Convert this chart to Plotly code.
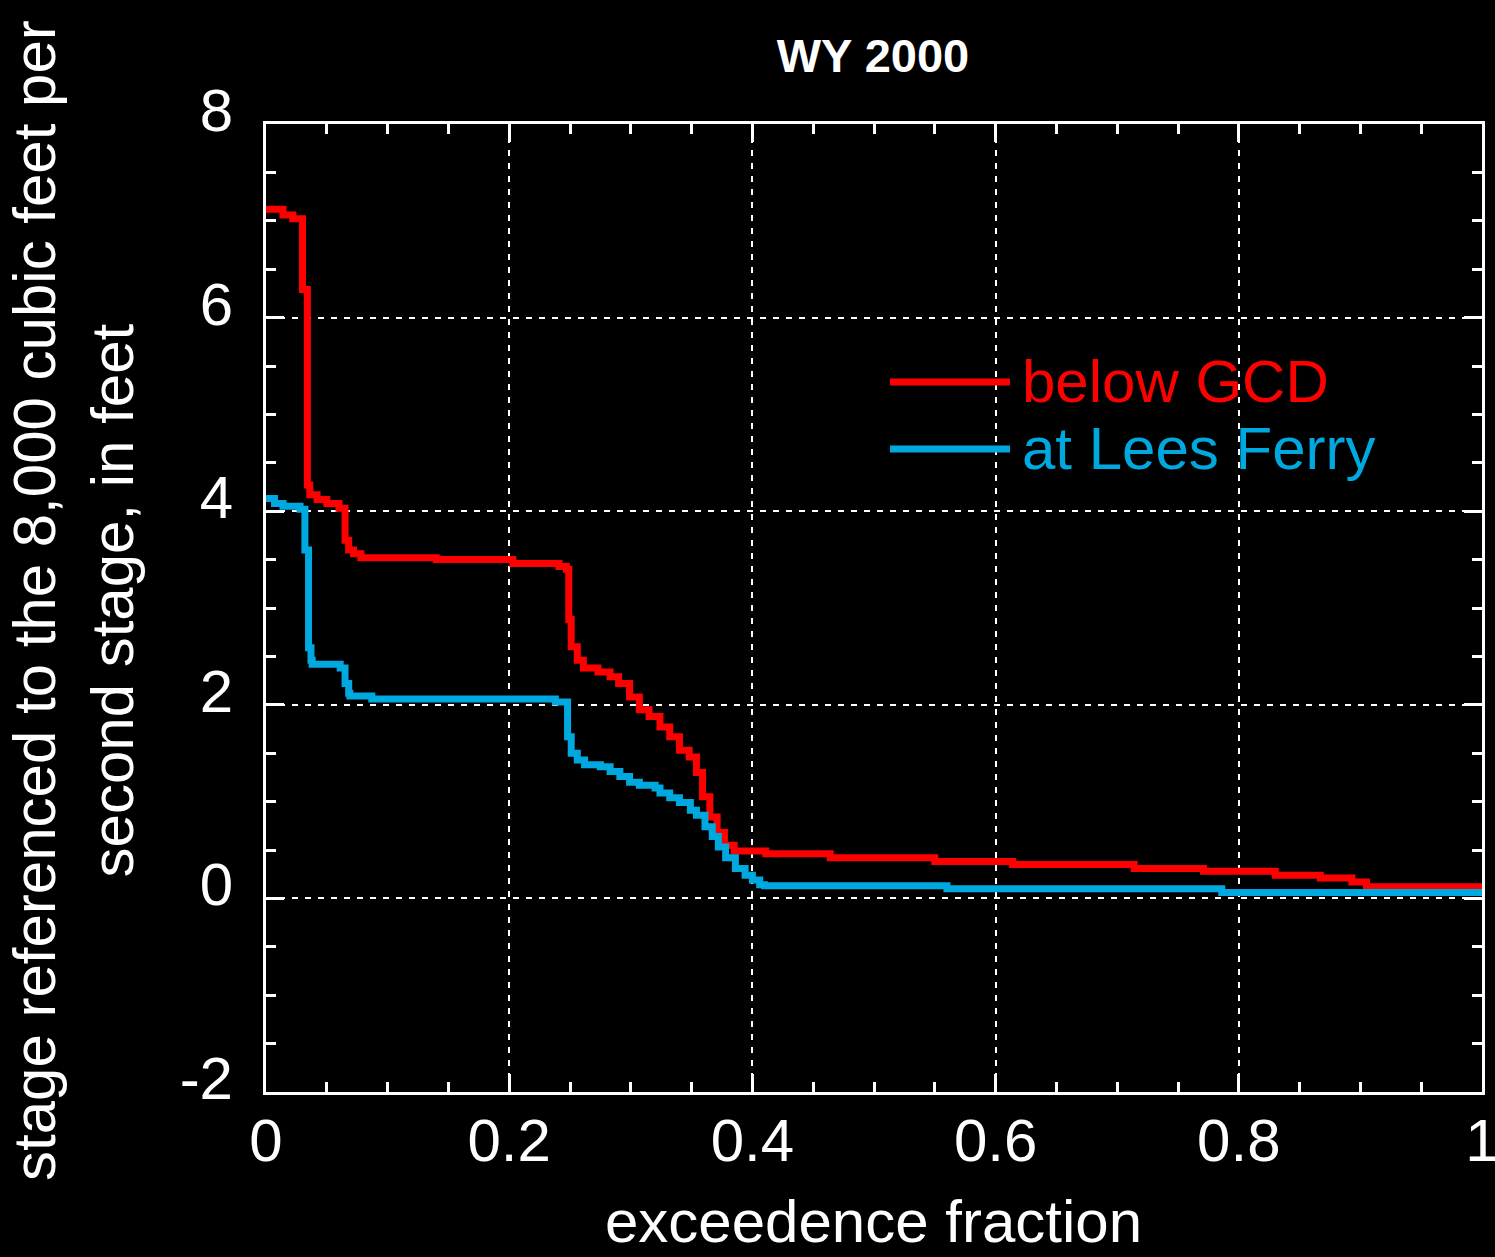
import plotly.graph_objects as go

# exceedence fraction / stage values
red_x = [0.000, 0.014, 0.022, 0.030, 0.034, 0.036, 0.042, 0.050, 0.060, 0.065,
         0.068, 0.072, 0.078, 0.140, 0.203, 0.241, 0.247, 0.249, 0.251, 0.256,
         0.261, 0.273, 0.283, 0.290, 0.299, 0.307, 0.315, 0.324, 0.332, 0.340,
         0.348, 0.354, 0.359, 0.365, 0.371, 0.377, 0.385, 0.411, 0.464, 0.550,
         0.614, 0.714, 0.771, 0.830, 0.867, 0.893, 0.905, 1.000]
red_y = [7.12, 7.06, 7.02, 6.29, 4.27, 4.17, 4.12, 4.08, 4.03, 3.70,
         3.60, 3.56, 3.52, 3.50, 3.46, 3.43, 3.40, 2.88, 2.60, 2.46,
         2.38, 2.34, 2.29, 2.22, 2.08, 1.95, 1.88, 1.77, 1.67, 1.53,
         1.46, 1.30, 1.05, 0.84, 0.68, 0.55, 0.49, 0.46, 0.42, 0.38,
         0.35, 0.31, 0.28, 0.24, 0.21, 0.17, 0.12, 0.12]

blue_x = [0.000, 0.007, 0.014, 0.028, 0.032, 0.035, 0.037, 0.038, 0.061, 0.065,
          0.068, 0.069, 0.087, 0.238, 0.248, 0.251, 0.256, 0.262, 0.275, 0.283,
          0.291, 0.299, 0.307, 0.320, 0.324, 0.332, 0.340, 0.349, 0.354, 0.361,
          0.367, 0.372, 0.378, 0.386, 0.394, 0.400, 0.406, 0.410, 0.560, 0.786,
          1.000]
blue_y = [4.13, 4.08, 4.05, 4.02, 3.60, 2.59, 2.46, 2.42, 2.38, 2.22,
          2.12, 2.09, 2.06, 2.03, 1.67, 1.50, 1.43, 1.38, 1.36, 1.31,
          1.26, 1.20, 1.17, 1.14, 1.09, 1.04, 0.99, 0.91, 0.86, 0.74,
          0.64, 0.53, 0.42, 0.31, 0.24, 0.19, 0.14, 0.13, 0.10, 0.06,
          0.06]

series_names = ["below GCD", "at Lees Ferry"]
series_colors = ["#FF0000", "#00A8E0"]

x_ticks = [0, 0.2, 0.4, 0.6, 0.8, 1]
x_ticktext = ["0", "0.2", "0.4", "0.6", "0.8", "1"]
y_ticks = [-2, 0, 2, 4, 6, 8]
y_ticktext = ["-2", "0", "2", "4", "6", "8"]

FONT = "Liberation Sans, Arial, sans-serif"
FS = 60

fig = go.Figure()
fig.add_trace(go.Scatter(x=red_x, y=red_y, mode="lines", line_shape="hv",
                         line=dict(color=series_colors[0], width=7),
                         name=series_names[0], showlegend=False))
fig.add_trace(go.Scatter(x=blue_x, y=blue_y, mode="lines", line_shape="hv",
                         line=dict(color=series_colors[1], width=7),
                         name=series_names[1], showlegend=False))

axis_common = dict(
    showline=True, linecolor="white", linewidth=3, mirror="allticks",
    ticks="inside", ticklen=18, tickwidth=3, tickcolor="white",
    showgrid=True, gridcolor="white", gridwidth=2, griddash="6px,7px",
    zeroline=False, ticklabeloverflow="allow", automargin=False,
    tickfont=dict(family=FONT, size=FS, color="white"),
)

fig.update_xaxes(range=[0, 1], tickvals=x_ticks, ticktext=x_ticktext,
                 minor=dict(dtick=0.05, ticks="inside", ticklen=10, tickwidth=3,
                            tickcolor="white", showgrid=False),
                 ticklabelstandoff=-6, **axis_common)
fig.update_yaxes(range=[-2, 8], tickvals=y_ticks, ticktext=y_ticktext,
                 minor=dict(dtick=0.5, ticks="inside", ticklen=10, tickwidth=3,
                            tickcolor="white", showgrid=False),
                 ticklabelstandoff=18, ticklabelshift=-14, **axis_common)

W, H = 1495, 1257
L, R, T, B = 266, 13, 124, 165
pw, ph = W - L - R, H - T - B


def px_x(p):
    return (p - L) / pw


def px_y(p):
    return (H - B - p) / ph


annotations = [
    dict(text="exceedence fraction", xref="paper", yref="paper",
         x=px_x(873), y=px_y(1221), xanchor="center", yanchor="middle",
         showarrow=False, font=dict(family=FONT, size=FS, color="white")),
    dict(text="stage referenced to the 8,000 cubic feet per<br>second stage, in feet",
         xref="paper", yref="paper", x=px_x(73), y=px_y(601),
         xanchor="center", yanchor="middle", textangle=-90,
         showarrow=False, font=dict(family=FONT, size=FS, color="white")),
]
shapes = []
leg_rows = [382, 449]
for name, color, py in zip(series_names, series_colors, leg_rows):
    shapes.append(dict(type="line", xref="paper", yref="paper",
                       x0=px_x(890), x1=px_x(1010), y0=px_y(py), y1=px_y(py),
                       line=dict(color=color, width=7)))
    annotations.append(dict(text=name, xref="paper", yref="paper",
                            x=px_x(1020), y=px_y(py), xanchor="left", yanchor="middle",
                            showarrow=False,
                            font=dict(family=FONT, size=FS, color=color)))

fig.update_layout(
    width=W, height=H,
    margin=dict(l=L, r=R, t=T, b=B, autoexpand=False),
    paper_bgcolor="black", plot_bgcolor="black",
    title=dict(text="<b>WY 2000</b>", x=873 / W, xanchor="center",
               y=1 - 56 / H, yanchor="middle", yref="container",
               font=dict(family=FONT, size=47, color="white")),
    annotations=annotations, shapes=shapes,
    showlegend=False,
)

fig.write_html("out.html",
               config={"displayModeBar": False},
               post_script="document.body.style.margin='0';"
                           "document.body.style.background='black';")
